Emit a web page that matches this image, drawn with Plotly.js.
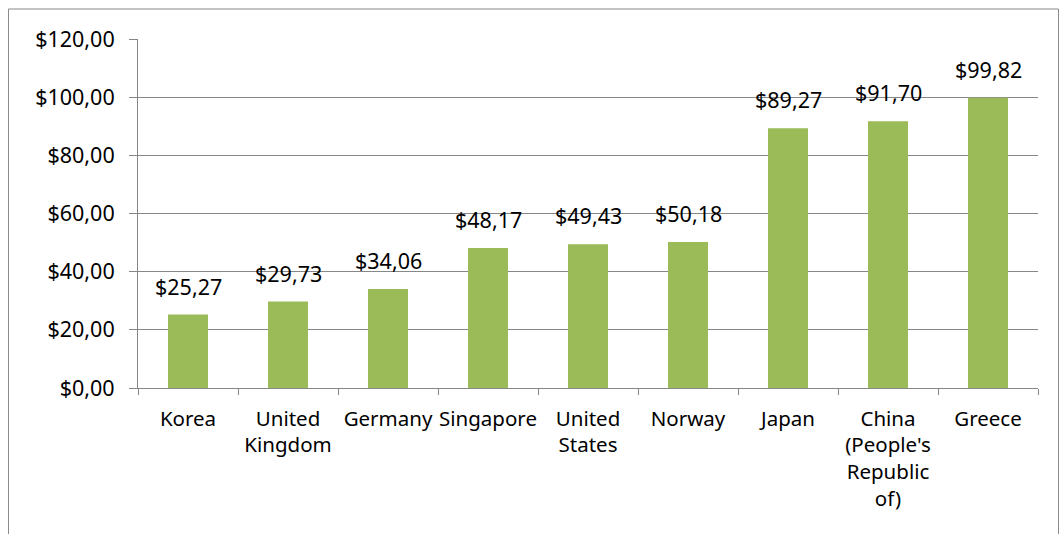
<!DOCTYPE html>
<html><head><meta charset="utf-8">
<script src="https://cdn.plot.ly/plotly-3.0.1.min.js"></script>
<style>body{margin:0;background:#fff}#c{width:1059px;height:534px}</style>
</head><body><div id="c"></div>
<script>
const categories = ["Korea","United<br>Kingdom","Germany","Singapore","United<br>States","Norway","Japan","China<br>(People's<br>Republic<br>of)","Greece"];
const values = [25.27,29.73,34.06,48.17,49.43,50.18,89.27,91.70,99.82];
const yTicks = [0,20,40,60,80,100,120];
const fmt = v => "$" + v.toFixed(2).replace(".", ",");
const font = "Noto Sans, sans-serif";
Plotly.newPlot("c", [{
  type: "bar", x: categories, y: values,
  marker: {color: "#9BBB59"}, width: 0.4, hoverinfo: "none"
}], {
  width: 1059, height: 534,
  margin: {l: 138, r: 21, t: 39, b: 146},
  paper_bgcolor: "#fff", plot_bgcolor: "#fff",
  showlegend: false,
  font: {family: font, size: 21, color: "#000"},
  xaxis: {type: "category", tickson: "boundaries", ticks: "outside", ticklen: 6, tickcolor: "#878787",
    showline: true, linecolor: "#878787", linewidth: 1, showgrid: false, tickangle: 0,
    tickfont: {family: font, size: 20.5}, ticklabelstandoff: 12, automargin: false},
  yaxis: {range: [0, 120], tickvals: yTicks, ticktext: yTicks.map(fmt), ticks: "outside", ticklen: 8,
    tickcolor: "#878787", showline: true, linecolor: "#878787", showgrid: true, gridcolor: "#878787",
    zeroline: false, tickfont: {family: font, size: 21.5}, ticklabelstandoff: 10, automargin: false},
  annotations: values.map((v, i) => ({x: categories[i], y: v, text: fmt(v), showarrow: false,
    yanchor: "bottom", yshift: 12, font: {family: font, size: 21.5, color: "#000"}})),
  shapes: [{type: "path", xref: "paper", yref: "paper",
    path: "M -0.1439,-0.5 L -0.1439,1.086 L 1.0228,1.086 L 1.0228,-0.5",
    line: {color: "#8a8a8a", width: 1}}]
}, {displayModeBar: false, staticPlot: true});
</script></body></html>
